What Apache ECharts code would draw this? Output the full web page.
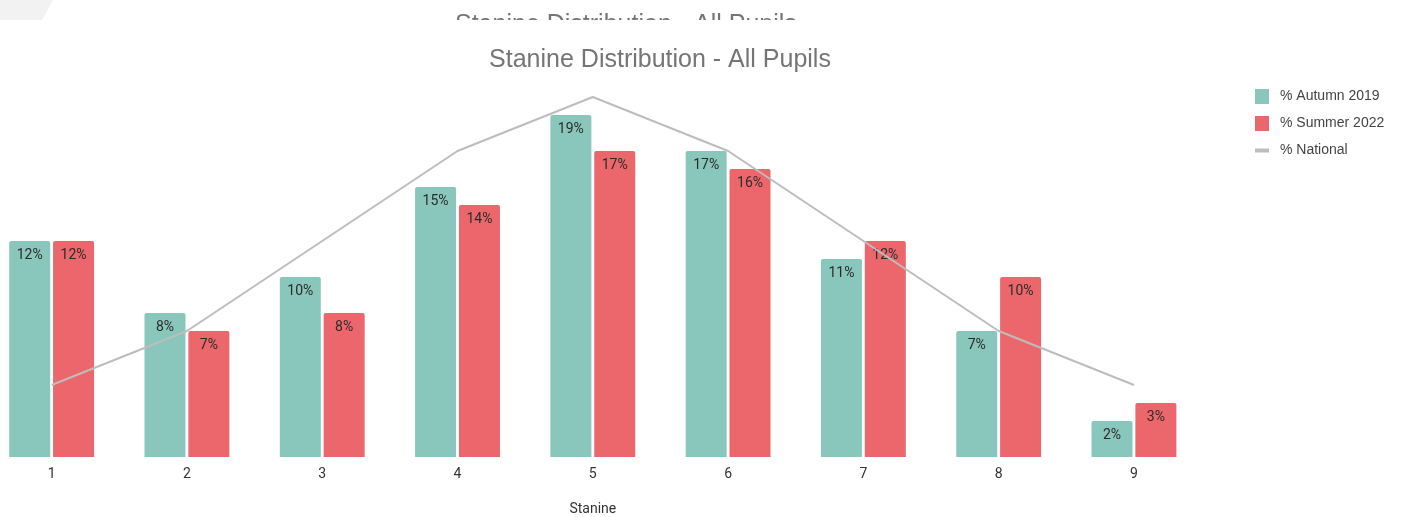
<!DOCTYPE html>
<html>
<head>
<meta charset="utf-8">
<script src="https://cdn.jsdelivr.net/npm/echarts@6/dist/echarts.min.js"></script>
<style>
  html, body { margin: 0; padding: 0; background: #fff; overflow: hidden; }
  #wrap { position: relative; width: 1405px; height: 517px; overflow: hidden; }
  /* the plot starts slightly left of the visible page edge */
  #chart { position: absolute; left: -16px; top: 0; width: 1421px; height: 517px; }
</style>
</head>
<body>
<div id="wrap"><div id="chart"></div></div>
<script>
// Stanine bands 1–9
const stanines = ['1', '2', '3', '4', '5', '6', '7', '8', '9'];
// Percentage of pupils in each stanine
const autumn2019 = [12, 8, 10, 15, 19, 17, 11, 7, 2];
const summer2022 = [12, 7, 8, 14, 17, 16, 12, 10, 3];
// National expected distribution
const national = [4, 7, 12, 17, 20, 17, 12, 7, 4];

const X = 16; // horizontal offset of the chart canvas

const chart = echarts.init(document.getElementById('chart'), null, { renderer: 'canvas' });

const barLabel = {
  show: true,
  position: 'insideTop',
  distance: 7,
  formatter: p => p.value + '%',
  color: '#2b2b2b',
  fontFamily: 'Roboto, sans-serif',
  fontSize: 14
};

const titleFont = '"Liberation Sans", Arial, sans-serif';

chart.setOption({
  animation: false,
  backgroundColor: '#ffffff',
  title: {
    text: 'Stanine Distribution - All Pupils',
    left: 655 + X,
    textAlign: 'center',
    top: 43,
    textStyle: {
      fontFamily: titleFont,
      fontWeight: 'normal',
      fontSize: 25,
      color: '#757575'
    }
  },
  graphic: [
    {
      type: 'polygon',
      shape: { points: [[X, 0], [53 + X, 0], [42 + X, 20], [X, 20]] },
      style: { fill: '#f2f2f2' }
    },
    {
      type: 'text',
      left: 455 + X,
      top: 13,
      style: {
        text: 'Stanine Distribution - All Pupils',
        font: '25px ' + titleFont,
        fill: '#757575'
      }
    },
    {
      type: 'rect',
      shape: { x: 300 + X, y: 20, width: 700, height: 20 },
      style: { fill: '#ffffff' },
      z: 100
    }
  ],
  legend: {
    orient: 'vertical',
    left: 1250 + X,
    top: 84,
    itemWidth: 20,
    itemHeight: 15,
    itemGap: 12,
    textStyle: {
      fontFamily: '"Liberation Sans", Arial, sans-serif',
      fontSize: 14,
      color: '#444',
      padding: [0, 0, 0, 3]
    },
    data: [
      { name: '% Autumn 2019', icon: 'path://M0,0h14v15h-14z' },
      { name: '% Summer 2022', icon: 'path://M0,0h14v15h-14z' },
      { name: '% National', icon: 'path://M0,0L0,0M14,15L14,15M0,5.5h14v4h-14z' }
    ]
  },
  grid: {
    left: 0,
    right: 203.4,
    top: 97,
    bottom: 60,
    outerBoundsMode: 'none'
  },
  xAxis: {
    type: 'category',
    data: stanines,
    name: 'Stanine',
    nameLocation: 'middle',
    nameGap: 45,
    nameTextStyle: {
      fontFamily: 'Roboto, sans-serif',
      fontSize: 14,
      color: '#333'
    },
    axisLine: { show: false },
    axisTick: { show: false },
    axisLabel: {
      margin: 10,
      fontFamily: 'Roboto, sans-serif',
      fontSize: 14,
      color: '#333'
    }
  },
  yAxis: {
    type: 'value',
    min: 0,
    max: 20,
    show: false,
    splitLine: { show: false }
  },
  series: [
    {
      name: '% Autumn 2019',
      type: 'bar',
      data: autumn2019,
      barWidth: 41,
      barGap: '7%',
      itemStyle: { color: '#89c6bc', borderRadius: [2, 2, 0, 0] },
      label: barLabel
    },
    {
      name: '% Summer 2022',
      type: 'bar',
      data: summer2022,
      barWidth: 41,
      barGap: '7%',
      itemStyle: { color: '#ec676c', borderRadius: [2, 2, 0, 0] },
      label: barLabel
    },
    {
      name: '% National',
      type: 'line',
      data: national,
      symbol: 'none',
      z: 5,
      lineStyle: { color: '#bdbdbd', width: 2 },
      itemStyle: { color: '#bdbdbd' }
    }
  ]
});
</script>
</body>
</html>
